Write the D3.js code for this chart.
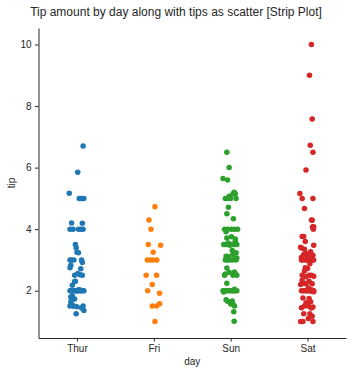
<!DOCTYPE html>
<html>
<head>
<meta charset="utf-8">
<script src="https://cdn.jsdelivr.net/npm/d3@7"></script>
<style>
  body { margin: 0; background: #fff; }
  svg { display: block; font-family: "Liberation Sans", Arial, sans-serif; }
</style>
</head>
<body>
<div id="chart"></div>
<script>
// Categories and colours
const days = ["Thur", "Fri", "Sun", "Sat"];
const dayColors = ["#1f77b4", "#ff7f0e", "#2ca02c", "#d62728"];
const yTicks = [2, 4, 6, 8, 10];

// Tip values per day (data order)
const thurTips = [4.0, 3.0, 2.71, 3.0, 3.4, 1.83, 5.0, 2.03, 5.17, 2.0, 4.0, 5.85, 3.0,
  1.5, 1.8, 2.92, 2.31, 1.68, 2.5, 2.0, 2.52, 4.2, 1.48, 2.0, 2.0, 2.18, 1.5, 2.83, 1.5, 2.0,
  3.25, 1.25, 2.0, 2.0, 2.0, 2.75, 3.5, 6.7, 5.0, 5.0, 2.3, 1.5, 1.36, 1.63, 1.73, 2.0,
  4.19, 2.56, 2.02, 4.0, 1.44, 2.0, 5.0, 2.0, 2.0, 4.0, 2.01, 2.0, 2.5, 4.0, 3.23, 3.0];
const friTips = [3.0, 3.5, 1.0, 4.3, 3.25, 4.73, 4.0, 1.5, 3.0, 1.5, 2.5, 3.0,
  2.2, 3.48, 1.92, 3.0, 1.58, 2.5, 2.0];
const sunTips = [1.01, 1.66, 3.5, 3.31, 3.61, 4.71, 2.0, 3.12, 1.96, 3.23, 1.71, 5.0, 1.57,
  3.0, 3.02, 3.92, 1.67, 3.71, 3.5,
  2.54, 3.06, 1.32, 5.6, 3.0, 5.0, 6.0, 2.05, 3.0, 2.5, 2.6, 5.2, 1.56, 4.34, 3.51,
  4.0, 2.55, 4.0, 3.5, 5.07,
  2.5, 2.0, 2.74, 2.0, 2.0, 5.14, 5.0, 3.75, 2.61, 2.0, 3.5, 2.5, 2.0, 2.0, 3.0, 3.48, 2.24, 4.5,
  5.15, 3.18, 4.0, 3.11, 2.0, 2.0, 4.0, 3.55, 3.68, 5.65, 3.5, 6.5, 3.0, 5.0, 3.5, 2.0, 3.5, 4.0, 1.5];
const satTips = [3.35, 4.08, 2.75, 2.23, 7.58, 3.18, 2.34, 2.0, 2.0, 4.3, 3.0, 1.45, 2.5, 3.0,
  2.45, 3.27, 3.6, 2.0, 3.07, 2.31, 5.0, 2.24,
  3.0, 1.5, 1.76, 6.73, 3.21, 2.0, 1.98, 3.76, 2.64, 3.15, 2.47, 1.0, 2.01, 2.09, 1.97, 3.0,
  3.14, 5.0, 2.2, 1.25, 3.08,
  2.5, 3.48, 4.08, 1.64, 4.06, 4.29, 3.76, 4.0, 3.0, 1.0,
  1.61, 2.0, 10.0, 3.16,
  3.41, 3.0, 2.03, 2.23, 2.0, 5.16, 9.0, 2.5, 6.5, 1.1, 3.0, 1.5, 1.44, 3.09,
  3.0, 2.72, 2.88, 2.0, 3.0, 3.39, 1.47, 3.0, 1.25, 1.0, 1.17, 4.67, 5.92, 2.0, 2.0, 1.75];

// Horizontal jitter per point (category units)
const thurJitter = [-0.09, -0.07, 0.05, 0.06, -0.01, -0.06, 0.03, 0.02, -0.1, -0.09, 0.08, 0.01, -0.04,
  -0.05, -0.08, 0.07, -0.02, -0.07, -0.03, 0.09, 0.04, -0.07, 0.0, -0.05, 0.05, -0.06, 0.08, -0.08, -0.04, -0.02,
  0.0, -0.01, 0.02, -0.08, 0.07, -0.09, -0.02, 0.08, 0.05, 0.07, -0.03, -0.09, 0.09, -0.08, -0.03, 0.0,
  0.07, 0.01, 0.04, -0.05, 0.06, -0.03, 0.09, 0.03, -0.07, 0.05, 0.06, -0.01, 0.07, 0.02, 0.02, -0.09];
const friJitter = [-0.085, -0.072, 0.015, -0.063, -0.008, 0.015, -0.037, -0.02, -0.045, 0.036, -0.1, -0.01,
  -0.02, 0.088, 0.075, 0.04, 0.075, 0.036, -0.08];
const sunJitter = [0.045, -0.04, -0.09, 0.02, 0.06, -0.03, -0.08, -0.06, -0.09, 0.07, -0.06, -0.07, 0.0,
  -0.02, 0.05, -0.06, 0.02, -0.05, 0.03,
  -0.07, 0.08, 0.04, -0.04, 0.02, -0.04, -0.02, 0.05, -0.07, 0.03, -0.02, 0.045, 0.03, 0.035, 0.07,
  -0.08, 0.06, 0.01, -0.05, -0.02,
  -0.08, 0.03, -0.05, -0.03, 0.08, 0.03, 0.07, 0.01, 0.05, -0.06, 0.05, 0.08, 0.01, 0.06, -0.04, -0.01, -0.05, -0.05,
  0.06, 0.03, 0.05, -0.03, -0.1, 0.04, 0.09, -0.03, 0.06, -0.1, 0.08, -0.05, 0.07, 0.0, -0.07, -0.01, 0.0, -0.04, 0.05];
const satJitter = [-0.04, 0.07, -0.03, 0.06, 0.06, -0.05, -0.07, 0.03, -0.04, 0.05, 0.02, -0.08, 0.05, -0.06,
  -0.02, 0.04, -0.03, 0.07, 0.0, 0.02, -0.07, -0.05,
  0.06, 0.01, -0.06, 0.035, -0.02, -0.08, 0.05, -0.07, -0.04, 0.07, 0.08, -0.06, -0.02, 0.01, 0.08, -0.03,
  0.02, 0.07, -0.09, -0.05, -0.08,
  -0.07, 0.08, 0.08, 0.04, 0.065, 0.06, -0.05, 0.075, 0.04, 0.07,
  -0.02, -0.01, 0.05, -0.01,
  -0.09, 0.08, 0.05, -0.02, 0.0, -0.1, 0.025, 0.02, 0.07, 0.01, -0.01, -0.04, 0.05, 0.05,
  -0.08, 0.0, 0.03, 0.06, 0.05, -0.08, 0.07, 0.01, 0.03, -0.09, 0.06, -0.04, -0.02, -0.06, 0.08, 0.02];

const tipsByDay = [thurTips, friTips, sunTips, satTips];
const jitterByDay = [thurJitter, friJitter, sunJitter, satJitter];

const width = 352, height = 374;
const margin = { top: 28, right: 6, bottom: 36, left: 38.5 };
const ink = "#262626";

const svg = d3.select("#chart").append("svg")
  .attr("width", width)
  .attr("height", height);

// Category axis runs from -0.5 to 3.5, like a categorical strip plot
const x = d3.scaleLinear()
  .domain([-0.5, days.length - 0.5])
  .range([margin.left, width - margin.right]);

const y = d3.scaleLinear()
  .domain([0.464, 10.536])
  .range([height - margin.bottom, margin.top]);

// Points
const points = days.flatMap((day, i) =>
  tipsByDay[i].map((tip, j) => ({ day: i, tip: tip, jit: jitterByDay[i][j] }))
);

svg.append("g")
  .selectAll("circle")
  .data(points)
  .enter()
  .append("circle")
  .attr("cx", d => x(d.day + d.jit))
  .attr("cy", d => y(d.tip))
  .attr("r", 2.75)
  .attr("fill", d => dayColors[d.day]);

// X axis
const xAxis = d3.axisBottom(x)
  .tickValues(d3.range(days.length))
  .tickFormat(i => days[i])
  .tickSizeInner(3.5)
  .tickSizeOuter(0)
  .tickPadding(3.5);

const gx = svg.append("g")
  .attr("transform", `translate(0,${height - margin.bottom})`)
  .call(xAxis);

// Y axis
const yAxis = d3.axisLeft(y)
  .tickValues(yTicks)
  .tickFormat(d3.format("d"))
  .tickSizeInner(3.5)
  .tickSizeOuter(0)
  .tickPadding(3.5);

const gy = svg.append("g")
  .attr("transform", `translate(${margin.left},0)`)
  .call(yAxis);

[gx, gy].forEach(g => {
  g.select(".domain").attr("stroke", ink).attr("stroke-width", 1);
  g.selectAll(".tick line").attr("stroke", ink).attr("stroke-width", 1);
  g.selectAll(".tick text")
    .attr("fill", ink)
    .style("font-size", "10px")
    .style("font-family", "'Liberation Sans', Arial, sans-serif");
});

// Axis labels
svg.append("text")
  .attr("x", (margin.left + width - margin.right) / 2)
  .attr("y", 365)
  .attr("text-anchor", "middle")
  .attr("fill", ink)
  .style("font-size", "10px")
  .text("day");

svg.append("text")
  .attr("transform", `translate(15,${(margin.top + height - margin.bottom) / 2}) rotate(-90)`)
  .attr("text-anchor", "middle")
  .attr("fill", ink)
  .style("font-size", "10px")
  .text("tip");

// Title, centred on the whole figure
svg.append("text")
  .attr("x", width / 2)
  .attr("y", 16)
  .attr("text-anchor", "middle")
  .attr("fill", ink)
  .style("font-size", "12px")
  .text("Tip amount by day along with tips as scatter [Strip Plot]");
</script>
</body>
</html>
